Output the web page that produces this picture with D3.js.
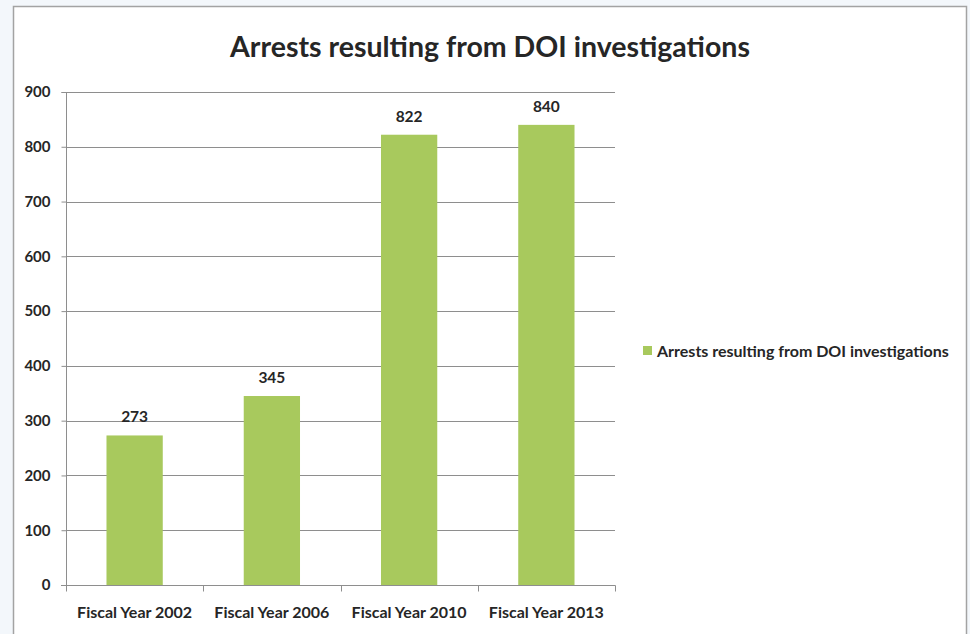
<!DOCTYPE html>
<html><head><meta charset="utf-8">
<script src="https://cdn.jsdelivr.net/npm/d3@7"></script>
<style>
html,body{margin:0;padding:0;background:#f3f7fb;}
svg{display:block;}
text{font-family:Lato,"Open Sans",sans-serif;font-weight:bold;fill:#262626;}
</style></head><body>
<svg id="c" width="970" height="634"></svg>
<script>
const categories = ["Fiscal Year 2002","Fiscal Year 2006","Fiscal Year 2010","Fiscal Year 2013"];
const values = [273, 345, 822, 840];
const yTicks = [0,100,200,300,400,500,600,700,800,900];
const seriesName = "Arrests resulting from DOI investigations";
const title = "Arrests resulting from DOI investigations";

const svg = d3.select("#c");
svg.append("rect").attr("x",13.5).attr("y",6.5).attr("width",953).attr("height",640)
  .attr("fill","#fff").attr("stroke","#a3a3a3").attr("stroke-width",1.5);

const m = {l:66, r:615, t:92, b:585};
const x = d3.scaleBand().domain(categories).range([m.l,m.r]).paddingInner(0.59).paddingOuter(0.295);
const xb = d3.scaleBand().domain(categories).range([m.l,m.r]);
const y = d3.scaleLinear().domain([0,900]).range([m.b,m.t]);

svg.append("g").selectAll("line").data(yTicks.filter(d=>d>0)).join("line")
  .attr("x1",m.l).attr("x2",m.r).attr("y1",d=>Math.round(y(d))+0.5).attr("y2",d=>Math.round(y(d))+0.5)
  .attr("stroke","#8e8e8e").attr("stroke-width",1);

svg.append("g").selectAll("rect").data(values).join("rect")
  .attr("x",(d,i)=>x(categories[i])).attr("width",x.bandwidth())
  .attr("y",d=>y(d)).attr("height",d=>y(0)-y(d)).attr("fill","#a8c95d");

const ya = svg.append("g").attr("transform",`translate(${m.l+0.5},0)`)
  .call(d3.axisLeft(y).tickValues(yTicks).tickSize(5).tickPadding(11).tickFormat(d3.format("d")));
ya.select(".domain").attr("stroke","#8e8e8e").attr("d",`M-5,${m.t+0.5}H0V${m.b+6}`);
ya.selectAll(".tick line").attr("stroke","#8e8e8e");
ya.selectAll("text").attr("font-size",15).attr("font-family","Lato").attr("font-weight","bold").attr("fill","#262626");

const xa = svg.append("g").attr("transform",`translate(0,${Math.round(y(0))+0.5})`);
xa.append("line").attr("x1",m.l-5).attr("x2",m.r+0.5).attr("stroke","#8e8e8e");
const bounds = categories.map(c=>xb(c)).concat([m.r]);
xa.selectAll("line.t").data(bounds).join("line").attr("class","t")
  .attr("x1",d=>Math.round(d)+0.5).attr("x2",d=>Math.round(d)+0.5).attr("y1",0).attr("y2",6).attr("stroke","#8e8e8e");
xa.selectAll("text").data(categories).join("text")
  .attr("x",d=>xb(d)+xb.bandwidth()/2).attr("y",32).attr("text-anchor","middle")
  .attr("font-size",16).text(d=>d);

svg.append("g").selectAll("text").data(values).join("text")
  .attr("x",(d,i)=>x(categories[i])+x.bandwidth()/2).attr("y",d=>y(d)-13)
  .attr("text-anchor","middle").attr("font-size",15.5).text(d=>d);

svg.append("text").attr("x",490).attr("y",57).attr("text-anchor","middle")
  .attr("font-size",28.5).text(title);

svg.append("rect").attr("x",643).attr("y",346).attr("width",9).attr("height",9).attr("fill","#a8c95d");
svg.append("text").attr("x",657).attr("y",357).attr("font-size",16).text(seriesName);
</script></body></html>
